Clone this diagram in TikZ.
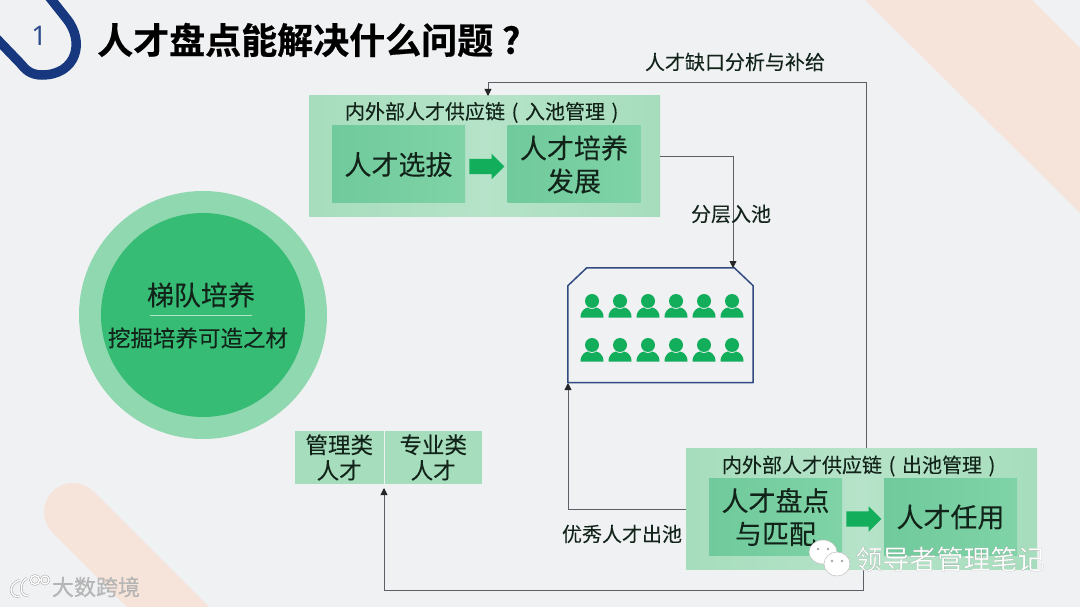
\documentclass[tikz,border=0pt]{standalone}
\usepackage{fontspec}
\usetikzlibrary{arrows.meta,shapes.arrows,calc}
\setmainfont{Noto Sans}
\newfontfamily\cjk[FakeBold=0.12]{Noto Sans CJK SC}
\newfontfamily\cjkheavy[FakeBold=0.6]{Noto Sans CJK SC Bold}
\newfontfamily\cjkmark[FakeBold=0.08]{Noto Sans CJK SC}
\newcommand{\fs}[1]{\fontsize{#1}{#1}\selectfont}
\newcommand{\paren}[1]{\makebox[20pt][c]{#1}}
\newcommand{\wmtext}[3]{\special{pdf:bcolor [#1] [#2]}#3\special{pdf:ecolor}}
\definecolor{pagebg}{HTML}{F0F1F3}
\definecolor{peach}{HTML}{F6E4DB}
\definecolor{navy}{HTML}{17387F}
\definecolor{pale}{HTML}{A6DDBC}
\definecolor{palehi}{HTML}{B6E3C9}
\definecolor{mid}{HTML}{70CA9B}
\definecolor{midhi}{HTML}{7FD3A7}
\definecolor{vivid}{HTML}{13AE5C}
\definecolor{ringouter}{HTML}{90D8AF}
\definecolor{ringinner}{HTML}{36BC74}
\definecolor{ink}{HTML}{12231A}
\definecolor{wire}{HTML}{5C6066}
\tikzset{
  outerbox/.style={rectangle,minimum width=351pt,minimum height=121pt,inner sep=0pt,left color=pale,right color=pale,middle color=palehi},
  innerbox/.style={rectangle,minimum width=133pt,minimum height=77pt,inner sep=0pt,left color=mid,right color=midhi,text=ink,align=center,font=\cjk\fs{27}},
  caption/.style={text=ink,font=\cjk\fs{20},inner sep=0pt},
  label/.style={text=ink,font=\cjk\fs{20},inner sep=0pt},
  flow/.style={single arrow,draw=none,fill=vivid,minimum height=35pt,inner sep=0pt,single arrow head extend=5pt,single arrow tip angle=90,single arrow head indent=0pt},
  kind/.style={rectangle,minimum height=53pt,inner sep=0pt,fill=pale,text=ink,align=center,font=\cjk\fs{22.5}},
  wirepath/.style={draw=wire,line width=0.9pt},
  wirearrow/.style={wirepath,-{Triangle[length=7pt,width=7pt,color=black!85]}},
  person/.style={fill=vivid,draw=none},
  bubble/.style={fill=white,draw=black!25,line width=0.5pt},
  eye/.style={fill=black!35,draw=none},
  logoline/.style={draw=black!35,double=white,double distance=1.4pt,line width=0.5pt}
}
\newcommand{\persona}[2]{%
  \fill[person] (#1,#2) circle (7pt);
  \fill[person] ({#1-11.5},{#2+16.5}) .. controls ({#1-11.5},{#2+9.5}) and ({#1-7},{#2+7}) .. ({#1-4},{#2+6.5}) .. controls ({#1-2},{#2+8.5}) and ({#1+2},{#2+8.5}) .. ({#1+4},{#2+6.5}) .. controls ({#1+7},{#2+7}) and ({#1+11.5},{#2+9.5}) .. ({#1+11.5},{#2+16.5}) -- cycle;
}
\begin{document}
\begin{tikzpicture}[x=1pt,y=-1pt]
\useasboundingbox (0,0) rectangle (1080,607);
\clip (0,0) rectangle (1080,607);
\fill[pagebg] (0,0) rectangle (1080,607);
% decorative stripes
\fill[peach] (865,0) -- (1032,0) -- (1080,48) -- (1080,213) -- cycle;
\draw[peach,line width=58pt,line cap=round] (73,512) -- (213,652);
% badge
\draw[navy,line width=9.5pt] (47,-6) -- (66,18) .. controls (86,42) and (76,75) .. (42,75) .. controls (30,75) and (25,69) .. (20,63) -- (-6,36);
\node[text=navy!90!white,font=\fs{27},inner sep=0pt] (num) at (39,36) {1};
\node[anchor=west,inner sep=0pt,font=\cjkheavy\fs{36},text=black] (title) at (97,40) {人才盘点能解决什么问题\makebox[36pt][c]{?}};
% top supply chain
\node[outerbox] (intake) at (484.5,156) {};
\node[caption] (intakecap) at (485,112.5) {内外部人才供应链\paren{(}入池管理\paren{)}};
\node[innerbox] (select) at (398.5,164.5) {人才选拔};
\node[innerbox] (develop) at (574,164.5) {人才培养\\[6pt]发展};
\node[flow] (intakeflow) at (483,166.5) {\rule{0pt}{15pt}};
% pool
\node[rectangle,minimum width=185pt,minimum height=114.5pt,inner sep=0pt] (pool) at (660.5,325.2) {};
\draw[navy!75!gray,line width=1.5pt,line join=round] ($(pool.north west)+(19,0)$) -- ($(pool.north east)+(-19+0,0)$) -- ($(pool.north east)+(0,18)$) -- (pool.south east) -- (pool.south west) -- ($(pool.north west)+(0,18)$) -- cycle;
\foreach \px in {592,620,648,676,704,732}{
  \persona{\px}{301}
  \persona{\px}{345}
}
% bottom supply chain
\node[outerbox] (outflow) at (861.5,509) {};
\node[caption] (outflowcap) at (862,466) {内外部人才供应链\paren{(}出池管理\paren{)}};
\node[innerbox] (review) at (775.5,517) {人才盘点\\[6pt]与匹配};
\node[innerbox] (assign) at (950.5,517) {人才任用};
\node[flow] (outflowflow) at (860,519) {\rule{0pt}{15pt}};
% talent kinds
\node[kind,minimum width=88.5pt] (manage) at (339.25,457.5) {管理类\\[3pt]人才};
\node[kind,minimum width=97.5pt] (expert) at (433.25,457.5) {专业类\\[3pt]人才};
% circle
\node[circle,fill=ringouter,minimum size=248pt,inner sep=0pt] (ringout) at (203,315) {};
\node[circle,fill=ringinner,minimum size=204pt,inner sep=0pt] (ringin) at (203,315) {};
\node[text=ink,font=\cjk\fs{27},inner sep=0pt] (ladder) at (201,295) {梯队培养};
\node[text=ink,font=\cjk\fs{22.5},inner sep=0pt] (mine) at (198,338) {挖掘培养可造之材};
\draw[palehi,line width=0.7pt] (150,315.5) -- (252,315.5);
% connector waypoints
\coordinate (loopcorner) at (866,82);
\coordinate (intaketop) at (488,96);
\coordinate (dropcorner) at (733,156);
\coordinate (pooltop) at (733,268);
\coordinate (poolbottom) at (568,383);
\coordinate (outleft) at (686,509);
\coordinate (outbottom) at (863,570);
\coordinate (kindbelow) at (384,488);
\coordinate (bottomrun) at (863,590);
% connectors
\draw[wirearrow] (outflow.north -| loopcorner) -- (loopcorner) -| (intaketop);
\draw[wirearrow] (intake.east |- dropcorner) -| (pooltop);
\draw[wirearrow] (outflow.west |- outleft) -| (poolbottom);
\draw[wirearrow] (outbottom) -- (bottomrun) -| (kindbelow);
% connector labels
\node[label] (gap) at (735,62) {人才缺口分析与补给};
\node[label] (tier) at (731,214) {分层入池};
\node[label] (excellent) at (622,534) {优秀人才出池};
% watermarks
\draw[bubble] (823,552) ellipse (14pt and 12pt);
\draw[bubble] (837,564) ellipse (13pt and 12pt);
\fill[eye] (818,549) circle (1.4pt) (828,549) circle (1.4pt) (832,561) circle (1.4pt) (842,561) circle (1.4pt);
\node[font=\cjkmark\fs{27},inner sep=0pt] (wm) at (950,559) {\wmtext{1}{0.5}{领导者管理笔记}};
\node[font=\cjkmark\fs{22},inner sep=0pt] (bd) at (96,587) {\wmtext{0.72}{0.62}{大数跨境}};
\draw[logoline] (20,580) .. controls (8,584) and (8,597) .. (20,597);
\draw[logoline] (27,578) .. controls (19,582) and (19,597) .. (29,596);
\draw[logoline] (35,580) circle (4.5pt) (45,580) circle (4pt);
\end{tikzpicture}
\end{document}
